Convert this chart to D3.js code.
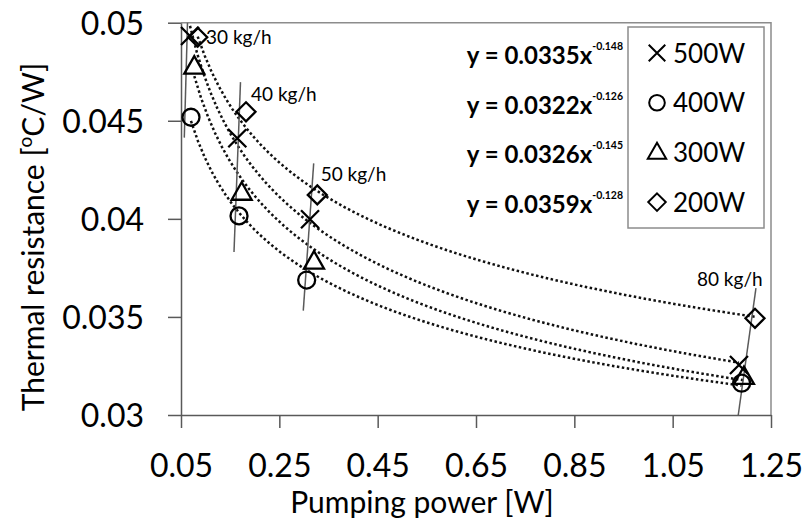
<!DOCTYPE html>
<html>
<head>
<meta charset="utf-8">
<script src="https://cdn.jsdelivr.net/npm/d3@7"></script>
<style>
  body { margin: 0; background: #fff; }
  svg { display: block; font-family: Lato, "Open Sans", sans-serif; }
</style>
</head>
<body>
<script>

// Series: heater power, pumping power [W] and thermal resistance [oC/W]
const seriesNames = ["500W", "400W", "300W", "200W"];
const pump500 = [0.0683, 0.1645, 0.3124, 1.1848];
const res500  = [0.04932, 0.04411, 0.03998, 0.03255];
const pump400 = [0.0703, 0.1680, 0.3056, 1.1903];
const res400  = [0.04518, 0.04015, 0.03688, 0.03162];
const pump300 = [0.0770, 0.1734, 0.3205, 1.1950];
const res300  = [0.04776, 0.04133, 0.03782, 0.03194];
const pump200 = [0.0840, 0.1822, 0.3272, 1.2174];
const res200  = [0.04926, 0.04546, 0.04122, 0.03493];

// Power-law trendlines y = a * x^b
const fitA = [0.0335, 0.0322, 0.0326, 0.0359];
const fitB = [-0.148, -0.126, -0.145, -0.128];

// Constant flow rate lines
const flowNames = ["30 kg/h", "40 kg/h", "50 kg/h", "80 kg/h"];
const flowTopX = [0.0632, 0.1710, 0.3199, 1.2194];
const flowTopY = [0.05, 0.04697, 0.04283, 0.03647];
const flowBotX = [0.0567, 0.1578, 0.2987, 1.1834];
const flowBotY = [0.04414, 0.03831, 0.03532, 0.03];

// Axis ticks
const xTicks = [0.05, 0.25, 0.45, 0.65, 0.85, 1.05, 1.25];
const yTicks = [0.03, 0.035, 0.04, 0.045, 0.05];

function drawChart(){

    const width = 807;
    const height = 524;
    const marginTop = 22.7;
    const marginRight = 36;
    const marginBottom = 109;
    const marginLeft = 181;

    const axisColor = "#595959";
    const borderColor = "#8c8c8c";

    const svg = d3.create("svg")
        .attr("width", width)
        .attr("height", height)
        .attr("viewBox", [0, 0, width, height]);

    const x = d3.scaleLinear([0.05, 1.25], [marginLeft, width - marginRight]);
    const y = d3.scaleLinear([0.03, 0.05], [height - marginBottom, marginTop]);

    // build series objects from the arrays
    const pumps = [pump500, pump400, pump300, pump200];
    const ress = [res500, res400, res300, res200];
    const shapes = ["x", "circle", "tri", "dia"];
    const series = seriesNames.map((name, i) => ({
        name: name,
        shape: shapes[i],
        a: fitA[i],
        b: fitB[i],
        points: pumps[i].map((p, j) => ({x: p, y: ress[i][j]}))
    }));

    // plot border (top and right)
    svg.append("path")
        .attr("fill", "none")
        .attr("stroke", borderColor)
        .attr("stroke-width", 1.5)
        .attr("d", `M${x(0.05)},${y(0.05)}H${x(1.25)}V${y(0.03)}`);

    // x axis
    svg.append("g")
        .attr("transform", `translate(0,${y(0.03)})`)
        .call(d3.axisBottom(x).tickValues(xTicks).tickSize(13).tickSizeOuter(0)
            .tickFormat(d => d.toFixed(2)))
        .call(g => g.selectAll(".domain, .tick line").attr("stroke", axisColor).attr("stroke-width", 1.5))
        .call(g => g.selectAll("text")
            .attr("y", 62).attr("dy", null)
            .attr("fill", "#000")
            .attr("font-size", 32))
        .attr("font-family", null).attr("font-size", null);

    // y axis
    svg.append("g")
        .attr("transform", `translate(${x(0.05)},0)`)
        .call(d3.axisLeft(y).tickValues(yTicks).tickSize(13).tickSizeOuter(0)
            .tickFormat(d => String(+d.toFixed(3))))
        .call(g => g.selectAll(".domain, .tick line").attr("stroke", axisColor).attr("stroke-width", 1.5))
        .call(g => g.selectAll("text")
            .attr("x", -37).attr("dy", "0.36em")
            .attr("fill", "#000")
            .attr("font-size", 32))
        .attr("font-family", null).attr("font-size", null);

    // axis titles
    svg.append("text")
        .attr("x", 422)
        .attr("y", 513)
        .attr("text-anchor", "middle")
        .attr("font-size", 30)
        .text("Pumping power [W]");

    const ylab = svg.append("text")
        .attr("transform", "translate(44,237) rotate(-90)")
        .attr("text-anchor", "middle")
        .attr("font-size", 30);
    ylab.append("tspan").text("Thermal resistance [");
    ylab.append("tspan").attr("font-size", 19).attr("dy", -12).text("o");
    ylab.append("tspan").attr("dy", 12).text("C/W]");

    // trendlines
    const trend = d3.line().x(d => x(d[0])).y(d => y(d[1]));
    series.forEach(function(s){
        const x0 = d3.min(s.points, d => d.x);
        const x1 = d3.max(s.points, d => d.x);
        const n = 80;
        const pts = d3.range(n + 1).map(i => {
            const xv = x0 + (x1 - x0) * i / n;
            return [xv, s.a * Math.pow(xv, s.b)];
        });
        svg.append("path")
            .attr("fill", "none")
            .attr("stroke", "#111")
            .attr("stroke-width", 2.5)
            .attr("stroke-dasharray", "2.5 2.5")
            .attr("d", trend(pts));
    });

    // flow rate lines and labels
    const labelOffset = [[18.5, 21], [10.5, 19], [7, 18], [-59, -2]];
    flowNames.forEach(function(f, i){
        svg.append("line")
            .attr("x1", x(flowTopX[i])).attr("y1", y(flowTopY[i]))
            .attr("x2", x(flowBotX[i])).attr("y2", y(flowBotY[i]))
            .attr("stroke", "#5a5a5a")
            .attr("stroke-width", 1.5);
        svg.append("text")
            .attr("x", x(flowTopX[i]) + labelOffset[i][0])
            .attr("y", y(flowTopY[i]) + labelOffset[i][1])
            .attr("font-size", 19)
            .text(f);
    });

    // markers
    function markerPath(shape, k){
        k = k || 1;
        if (shape == "x") return `M${-9*k},${-9*k}L${9*k},${9*k}M${-9*k},${9*k}L${9*k},${-9*k}`;
        if (shape == "circle") { const r = 8.5*k; return `M${r},0A${r},${r} 0 1,1 ${-r},0A${r},${r} 0 1,1 ${r},0Z`; }
        if (shape == "tri") return `M0,${-10.5*k}L${10*k},${7*k}L${-10*k},${7*k}Z`;
        return `M0,${-9.5*k}L${9.5*k},0L0,${9.5*k}L${-9.5*k},0Z`;
    }

    series.forEach(function(s){
        svg.append("g").selectAll("path")
            .data(s.points)
            .join("path")
            .attr("transform", d => `translate(${x(d.x)},${y(d.y)})`)
            .attr("d", markerPath(s.shape))
            .attr("fill", "none")
            .attr("stroke", "#000")
            .attr("stroke-width", 2.3);
    });

    // legend
    const legend = svg.append("g");
    legend.append("rect")
        .attr("x", 628).attr("y", 27)
        .attr("width", 136).attr("height", 201)
        .attr("fill", "#fff")
        .attr("stroke", borderColor)
        .attr("stroke-width", 1.5);

    series.forEach(function(s, i){
        const cy = 53 + i * 49.7;
        legend.append("path")
            .attr("transform", `translate(657,${cy})`)
            .attr("d", markerPath(s.shape, 0.92))
            .attr("fill", "none")
            .attr("stroke", "#000")
            .attr("stroke-width", 2);
        legend.append("text")
            .attr("x", 673).attr("y", cy + 9.5)
            .attr("font-size", 26)
            .text(s.name);

        // trendline equation
        const eq = svg.append("text")
            .attr("x", 623).attr("y", cy + 11)
            .attr("text-anchor", "end")
            .attr("font-weight", "bold")
            .attr("font-size", 24);
        eq.append("tspan").text(`y = ${s.a}x`);
        eq.append("tspan").attr("dy", -14).attr("font-size", 10.5).text(`${s.b}`);
    });

    document.body.appendChild(svg.node());
}

drawChart();
</script>
</body>
</html>
